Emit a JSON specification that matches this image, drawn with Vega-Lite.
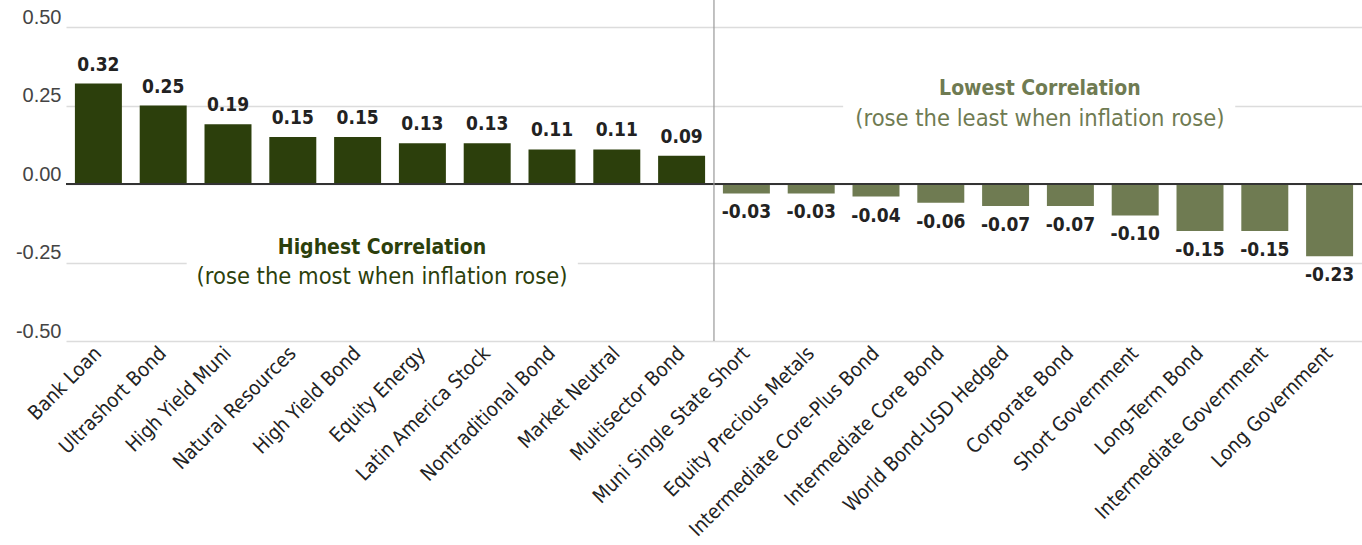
{
  "$schema": "https://vega.github.io/schema/vega-lite/v6.json",
  "autosize": "none",
  "width": 1296,
  "height": 314,
  "padding": {"left": 66, "top": 27, "right": 0, "bottom": 204},
  "background": "white",
  "config": {"view": {"stroke": null}},
  "datasets": {
    "bars": [
      {"fund": "Bank Loan", "corr": 0.32},
      {"fund": "Ultrashort Bond", "corr": 0.25},
      {"fund": "High Yield Muni", "corr": 0.19},
      {"fund": "Natural Resources", "corr": 0.15},
      {"fund": "High Yield Bond", "corr": 0.15},
      {"fund": "Equity Energy", "corr": 0.13},
      {"fund": "Latin America Stock", "corr": 0.13},
      {"fund": "Nontraditional Bond", "corr": 0.11},
      {"fund": "Market Neutral", "corr": 0.11},
      {"fund": "Multisector Bond", "corr": 0.09},
      {"fund": "Muni Single State Short", "corr": -0.03},
      {"fund": "Equity Precious Metals", "corr": -0.03},
      {"fund": "Intermediate Core-Plus Bond", "corr": -0.04},
      {"fund": "Intermediate Core Bond", "corr": -0.06},
      {"fund": "World Bond-USD Hedged", "corr": -0.07},
      {"fund": "Corporate Bond", "corr": -0.07},
      {"fund": "Short Government", "corr": -0.10},
      {"fund": "Long-Term Bond", "corr": -0.15},
      {"fund": "Intermediate Government", "corr": -0.15},
      {"fund": "Long Government", "corr": -0.23}
    ]
  },
  "layer": [
    {
      "data": {"name": "bars"},
      "mark": {"type": "bar"},
      "encoding": {
        "x": {
          "field": "fund", "type": "nominal", "sort": null,
          "scale": {"paddingInner": 0.275, "paddingOuter": 0.1375},
          "axis": {
            "title": null, "labelAngle": -45, "labelAlign": "right", "labelBaseline": "middle",
            "labelFont": "DejaVu Sans Condensed, sans-serif",
            "labelFontSize": 20, "labelColor": "#222", "ticks": false, "domain": false,
            "labelPadding": 9, "labelOverlap": false, "labelLimit": 400
          }
        },
        "y": {
          "field": "corr", "type": "quantitative",
          "scale": {"domain": [-0.5, 0.5], "nice": false},
          "axis": {
            "title": null, "values": [-0.5, -0.25, 0, 0.25, 0.5], "format": ".2f",
            "labelExpr": "replace(datum.label, '\u2212', '-')",
            "labelFont": "Liberation Sans, Arial, sans-serif", "labelFontSize": 20,
            "labelColor": "#444", "ticks": false, "domain": false, "labelPadding": 5,
            "gridColor": "#dcdcdc", "gridWidth": 1.5, "labelBaseline": "bottom"
          }
        },
        "color": {
          "condition": {"test": "datum.corr >= 0", "value": "#2c3f0c"},
          "value": "#6f7b52"
        }
      }
    },
    {
      "data": {"values": [{"a": "Ultrashort Bond", "b": "Nontraditional Bond", "lo": -0.265, "hi": -0.235}]},
      "mark": {"type": "rect", "color": "white"},
      "encoding": {
        "x": {"field": "a", "type": "nominal", "sort": null, "bandPosition": 1},
        "x2": {"field": "b", "bandPosition": 1.05},
        "y": {"field": "lo", "type": "quantitative"},
        "y2": {"field": "hi"}
      }
    },
    {
      "data": {"values": [{"a": "Equity Precious Metals", "b": "Long-Term Bond", "lo": 0.235, "hi": 0.265}]},
      "mark": {"type": "rect", "color": "white"},
      "encoding": {
        "x": {"field": "a", "type": "nominal", "sort": null, "bandPosition": 1.18},
        "x2": {"field": "b", "bandPosition": 1.25},
        "y": {"field": "lo", "type": "quantitative"},
        "y2": {"field": "hi"}
      }
    },
    {
      "data": {"values": [{"z": 0}]},
      "mark": {"type": "rule", "color": "#333", "strokeWidth": 1.8},
      "encoding": {"y": {"field": "z", "type": "quantitative"}}
    },
    {
      "data": {"values": [{"fund": "Multisector Bond", "y1": -0.5, "y2": 0.586}]},
      "mark": {"type": "rule", "color": "#999", "strokeWidth": 1.2},
      "encoding": {
        "x": {"field": "fund", "type": "nominal", "sort": null, "bandPosition": 1.189},
        "y": {"field": "y1", "type": "quantitative"},
        "y2": {"field": "y2"}
      }
    },
    {
      "data": {"name": "bars"},
      "transform": [{"filter": "datum.corr >= 0"}],
      "mark": {"type": "text", "baseline": "bottom", "dy": -9, "fontWeight": "bold",
               "font": "DejaVu Sans Condensed, sans-serif", "fontSize": 19, "color": "#222",
               "text": {"expr": "replace(format(datum.corr, '.2f'), '\u2212', '-')"}},
      "encoding": {
        "x": {"field": "fund", "type": "nominal", "sort": null},
        "y": {"field": "corr", "type": "quantitative"}
      }
    },
    {
      "data": {"name": "bars"},
      "transform": [{"filter": "datum.corr < 0"}],
      "mark": {"type": "text", "baseline": "top", "dy": 10, "fontWeight": "bold",
               "font": "DejaVu Sans Condensed, sans-serif", "fontSize": 19, "color": "#222",
               "text": {"expr": "replace(format(datum.corr, '.2f'), '\u2212', '-')"}},
      "encoding": {
        "x": {"field": "fund", "type": "nominal", "sort": null},
        "y": {"field": "corr", "type": "quantitative"}
      }
    },
    {
      "data": {"values": [{"fund": "High Yield Bond", "y": -0.204, "text": "Highest Correlation"}]},
      "mark": {"type": "text", "baseline": "middle", "align": "center", "fontWeight": "bold",
               "font": "DejaVu Sans Condensed, sans-serif", "fontSize": 21, "color": "#2c3f0c"},
      "encoding": {
        "x": {"field": "fund", "type": "nominal", "sort": null, "bandPosition": 1.02},
        "y": {"field": "y", "type": "quantitative"},
        "text": {"field": "text"}
      }
    },
    {
      "data": {"values": [{"fund": "High Yield Bond", "y": -0.296, "text": "(rose the most when inflation rose)"}]},
      "mark": {"type": "text", "baseline": "middle", "align": "center",
               "font": "DejaVu Sans Condensed, sans-serif", "fontSize": 23.5, "color": "#2c3f0c"},
      "encoding": {
        "x": {"field": "fund", "type": "nominal", "sort": null, "bandPosition": 1.02},
        "y": {"field": "y", "type": "quantitative"},
        "text": {"field": "text"}
      }
    },
    {
      "data": {"values": [{"fund": "World Bond-USD Hedged", "y": 0.303, "text": "Lowest Correlation"}]},
      "mark": {"type": "text", "baseline": "middle", "align": "center", "fontWeight": "bold",
               "font": "DejaVu Sans Condensed, sans-serif", "fontSize": 21, "color": "#6f7b52"},
      "encoding": {
        "x": {"field": "fund", "type": "nominal", "sort": null, "bandPosition": 1.23},
        "y": {"field": "y", "type": "quantitative"},
        "text": {"field": "text"}
      }
    },
    {
      "data": {"values": [{"fund": "World Bond-USD Hedged", "y": 0.207, "text": "(rose the least when inflation rose)"}]},
      "mark": {"type": "text", "baseline": "middle", "align": "center",
               "font": "DejaVu Sans Condensed, sans-serif", "fontSize": 23.5, "color": "#6f7b52"},
      "encoding": {
        "x": {"field": "fund", "type": "nominal", "sort": null, "bandPosition": 1.23},
        "y": {"field": "y", "type": "quantitative"},
        "text": {"field": "text"}
      }
    }
  ]
}
